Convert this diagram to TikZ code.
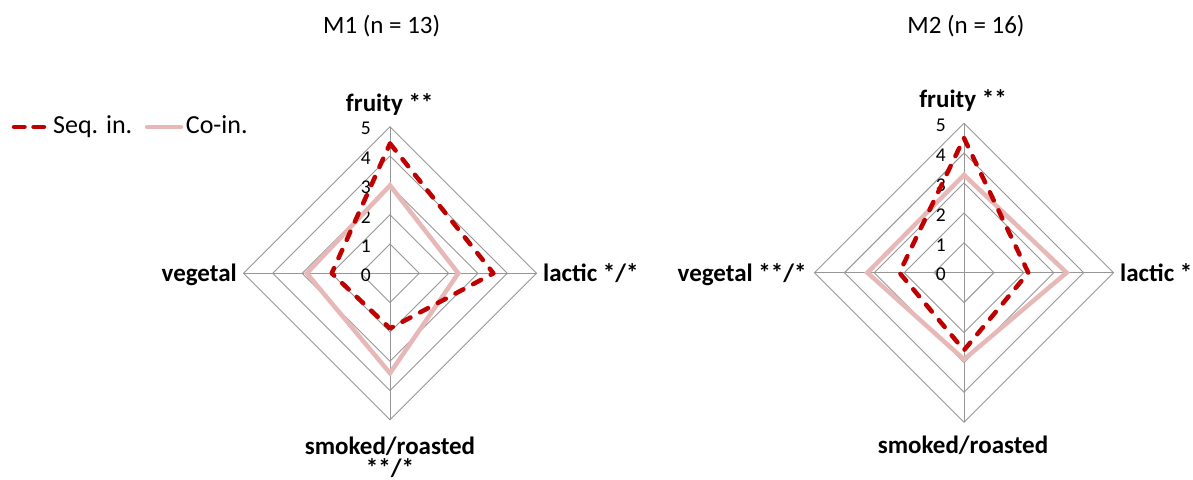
\documentclass[tikz,border=0pt]{standalone}
\usepackage{fontspec}
\setmainfont{Carlito}
\definecolor{seqred}{RGB}{192,0,0}
\definecolor{copink}{RGB}{230,185,184}
\definecolor{gridgray}{RGB}{150,150,150}
\begin{document}
\begin{tikzpicture}[x=1pt,y=-1pt,
  gridline/.style={draw=gridgray,line width=0.9pt},
  seqline/.style={draw=seqred,line width=4.5pt,dash pattern=on 9pt off 11pt,line cap=round,line join=round},
  coline/.style={draw=copink,line width=4.5pt,line join=miter},
  cat/.style={font=\fontsize{25}{25}\selectfont\bfseries,inner sep=0},
  ticklab/.style={font=\fontsize{19.5}{19.5}\selectfont,inner sep=0,anchor=east},
  ttl/.style={font=\fontsize{25}{25}\selectfont,inner sep=0,anchor=base},
  leg/.style={font=\fontsize{26}{26}\selectfont,inner sep=0,anchor=base west}]
\useasboundingbox (0,0) rectangle (1193,479);

% ---------- Legend ----------
\coordinate (lsA) at (14,127);
\coordinate (lsB) at (46,127);
\draw[seqline,dash pattern=on 10.5pt off 9pt] (lsA) -- (lsB);
\node[leg] (legseq) at (53,133.5) {Seq. in.};
\coordinate (lcA) at (147,127);
\coordinate (lcB) at (181,127);
\draw[coline,line cap=round] (lcA) -- (lcB);
\node[leg] (legco) at (185.7,133.5) {Co-in.};

% ---------- Chart 1 ----------
\node[ttl] (title1) at (381.7,33) {M1 (n = 13)};
\begin{scope}[shift={(390,273.3)}]
  \def\u{29.3}
  \foreach \k in {1,...,5}
    \draw[gridline] (0,-\k*\u) -- (\k*\u,0) -- (0,\k*\u) -- (-\k*\u,0) -- cycle;
  \draw[gridline] (0,-5*\u) -- (0,5*\u);
  \draw[gridline] (-5*\u,0) -- (5*\u,0);
  \foreach \k in {0,...,5}
    \node[ticklab] (ta\k) at (-19,-\k*\u+2) {\k};
  \coordinate (c1F) at (0,-3.0*\u);
  \coordinate (c1L) at (2.33*\u,0);
  \coordinate (c1S) at (0,3.41*\u);
  \coordinate (c1V) at (-2.84*\u,0);
  \draw[coline] (c1F) -- (c1L) -- (c1S) -- (c1V) -- cycle;
  \coordinate (s1F) at (0,-4.43*\u);
  \coordinate (s1L) at (3.53*\u,0);
  \coordinate (s1S) at (0,1.88*\u);
  \coordinate (s1V) at (-1.99*\u,0);
  \draw[seqline] (s1F) -- (s1L) -- (s1S) -- (s1V) -- cycle;
\end{scope}
\node[cat,anchor=base] (fruity1) at (389.7,111) {fruity **};
\node[cat,anchor=base east] (veg1) at (237,281) {vegetal};
\node[cat,anchor=base west] (lac1) at (543,281.5) {lactic */*};
\node[cat,anchor=north,align=center,font=\fontsize{25}{22}\selectfont\bfseries] (smk1) at (390,437) {smoked/roasted\\**/*};

% ---------- Chart 2 ----------
\node[ttl] (title2) at (966,33) {M2 (n = 16)};
\begin{scope}[shift={(964,272.7)}]
  \def\u{29.9}
  \foreach \k in {1,...,5}
    \draw[gridline] (0,-\k*\u) -- (\k*\u,0) -- (0,\k*\u) -- (-\k*\u,0) -- cycle;
  \draw[gridline] (0,-5*\u) -- (0,5*\u);
  \draw[gridline] (-5*\u,0) -- (5*\u,0);
  \foreach \k in {0,...,5}
    \node[ticklab] (tb\k) at (-18,-\k*\u+2) {\k};
  \coordinate (c2F) at (0,-3.27*\u);
  \coordinate (c2L) at (3.43*\u,0);
  \coordinate (c2S) at (0,2.9*\u);
  \coordinate (c2V) at (-3.23*\u,0);
  \draw[coline] (c2F) -- (c2L) -- (c2S) -- (c2V) -- cycle;
  \coordinate (s2F) at (0,-4.5*\u);
  \coordinate (s2L) at (2.15*\u,0);
  \coordinate (s2S) at (0,2.59*\u);
  \coordinate (s2V) at (-2.16*\u,0);
  \draw[seqline] (s2F) -- (s2L) -- (s2S) -- (s2V) -- cycle;
\end{scope}
\node[cat,anchor=base] (fruity2) at (963,107.3) {fruity **};
\node[cat,anchor=base east] (veg2) at (806.7,281) {vegetal **/*};
\node[cat,anchor=base west] (lac2) at (1120,281) {lactic *};
\node[cat,anchor=base] (smk2) at (963,453) {smoked/roasted};
\end{tikzpicture}
\end{document}
